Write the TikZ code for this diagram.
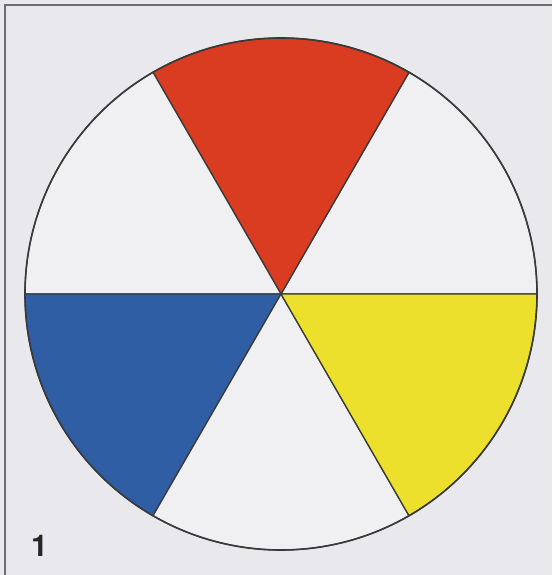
\documentclass[tikz,border=0pt]{standalone}
\usepackage{fontspec}
\setsansfont{TeX Gyre Heros}
\definecolor{bg}{HTML}{E9E9ED}
\definecolor{wsec}{HTML}{F0EFF2}
\definecolor{redsec}{HTML}{D93C20}
\definecolor{yelsec}{HTML}{EDE02C}
\definecolor{bluesec}{HTML}{2F5EA5}
\definecolor{edge}{HTML}{3A3A3A}
\definecolor{frame}{HTML}{6E6E72}
\begin{document}
\begin{tikzpicture}[x=1pt,y=-1pt,
  sector/.style={draw=edge,line width=1.3pt,line join=round},
  lbl/.style={font=\sffamily\bfseries\fontsize{30}{30}\selectfont,text=black!85,inner sep=0pt}]
\useasboundingbox (0,0) rectangle (552,575);
\fill[bg] (0,0) rectangle (552,575);
\draw[frame,line width=2.2pt] (5,575) -- (5,5) -- (552,5);
\coordinate (c) at (281,294);
\def\R{256}
\foreach \a/\col in {0/wsec,60/redsec,120/wsec,180/bluesec,240/wsec,300/yelsec}{
  \filldraw[sector,fill=\col] (c) -- ++(-\a:\R) arc[start angle=-\a,end angle=-\a-60,radius=\R] -- cycle;
}
\draw[edge,line width=1.6pt] (c) circle[radius=\R];
\node[lbl,anchor=south west] (num) at (31,557) {1};
\end{tikzpicture}
\end{document}
